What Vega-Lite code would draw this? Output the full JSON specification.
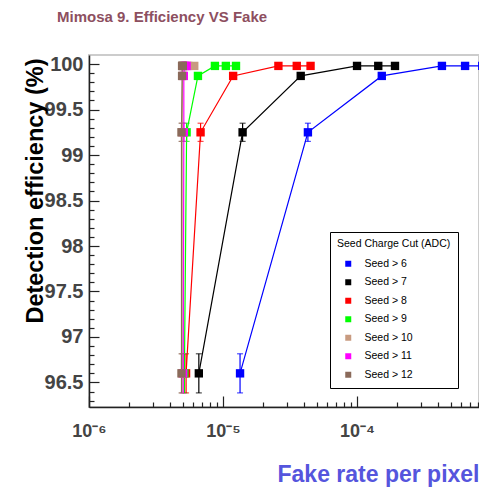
{
  "$schema": "https://vega.github.io/schema/vega-lite/v6.json",
  "width": 390,
  "height": 352,
  "autosize": {"type": "none"},
  "padding": {"left": 89, "top": 55, "right": 0, "bottom": 81},
  "background": "white",
  "config": {
    "view": {"stroke": "#cccccc", "strokeWidth": 2},
    "axis": {"grid": false}
  },
  "title": {
    "text": "Mimosa 9. Efficiency VS Fake",
    "anchor": "start",
    "frame": "group",
    "dx": -32,
    "offset": 29,
    "font": "Liberation Sans",
    "fontSize": 15,
    "fontWeight": "bold",
    "color": "#8d4f5f"
  },
  "data": {
    "values": [
      {"series": "Seed > 6", "x": 1.34e-5, "y": 96.6, "err": 0.215},
      {"series": "Seed > 6", "x": 4.3e-5, "y": 99.25, "err": 0.1},
      {"series": "Seed > 6", "x": 1.53e-4, "y": 99.87, "err": 0.03},
      {"series": "Seed > 6", "x": 4.3e-4, "y": 99.98, "err": 0.01},
      {"series": "Seed > 6", "x": 6.4e-4, "y": 99.98, "err": 0.01},
      {"series": "Seed > 6", "x": 8.6e-4, "y": 99.98, "err": 0.01},
      {"series": "Seed > 7", "x": 6.6e-6, "y": 96.6, "err": 0.215},
      {"series": "Seed > 7", "x": 1.4e-5, "y": 99.25, "err": 0.1},
      {"series": "Seed > 7", "x": 3.8e-5, "y": 99.87, "err": 0.03},
      {"series": "Seed > 7", "x": 1.0e-4, "y": 99.98, "err": 0.01},
      {"series": "Seed > 7", "x": 1.44e-4, "y": 99.98, "err": 0.01},
      {"series": "Seed > 7", "x": 1.92e-4, "y": 99.98, "err": 0.01},
      {"series": "Seed > 8", "x": 5.3e-6, "y": 96.6, "err": 0.215},
      {"series": "Seed > 8", "x": 6.8e-6, "y": 99.25, "err": 0.1},
      {"series": "Seed > 8", "x": 1.19e-5, "y": 99.87, "err": 0.03},
      {"series": "Seed > 8", "x": 2.59e-5, "y": 99.98, "err": 0.01},
      {"series": "Seed > 8", "x": 3.55e-5, "y": 99.98, "err": 0.01},
      {"series": "Seed > 8", "x": 4.5e-5, "y": 99.98, "err": 0.01},
      {"series": "Seed > 9", "x": 5.15e-6, "y": 96.6, "err": 0.215},
      {"series": "Seed > 9", "x": 5.35e-6, "y": 99.25, "err": 0.1},
      {"series": "Seed > 9", "x": 6.5e-6, "y": 99.87, "err": 0.03},
      {"series": "Seed > 9", "x": 8.7e-6, "y": 99.98, "err": 0.01},
      {"series": "Seed > 9", "x": 1.05e-5, "y": 99.98, "err": 0.01},
      {"series": "Seed > 9", "x": 1.25e-5, "y": 99.98, "err": 0.01},
      {"series": "Seed > 10", "x": 4.95e-6, "y": 96.6, "err": 0.215},
      {"series": "Seed > 10", "x": 4.95e-6, "y": 99.25, "err": 0.1},
      {"series": "Seed > 10", "x": 5.0e-6, "y": 99.87, "err": 0.03},
      {"series": "Seed > 10", "x": 5.0e-6, "y": 99.98, "err": 0.01},
      {"series": "Seed > 10", "x": 5.5e-6, "y": 99.98, "err": 0.01},
      {"series": "Seed > 10", "x": 6.1e-6, "y": 99.98, "err": 0.01},
      {"series": "Seed > 11", "x": 5.05e-6, "y": 96.6, "err": 0.215},
      {"series": "Seed > 11", "x": 5.1e-6, "y": 99.25, "err": 0.1},
      {"series": "Seed > 11", "x": 5.1e-6, "y": 99.87, "err": 0.03},
      {"series": "Seed > 11", "x": 5.15e-6, "y": 99.98, "err": 0.01},
      {"series": "Seed > 11", "x": 5.25e-6, "y": 99.98, "err": 0.01},
      {"series": "Seed > 11", "x": 5.35e-6, "y": 99.98, "err": 0.01},
      {"series": "Seed > 12", "x": 4.9e-6, "y": 96.6, "err": 0.215},
      {"series": "Seed > 12", "x": 4.9e-6, "y": 99.25, "err": 0.1},
      {"series": "Seed > 12", "x": 4.95e-6, "y": 99.87, "err": 0.03},
      {"series": "Seed > 12", "x": 4.95e-6, "y": 99.98, "err": 0.01},
      {"series": "Seed > 12", "x": 5.0e-6, "y": 99.98, "err": 0.01},
      {"series": "Seed > 12", "x": 5.0e-6, "y": 99.98, "err": 0.01}
    ]
  },
  "encoding": {
    "color": {
      "field": "series",
      "type": "nominal",
      "scale": {
        "domain": ["Seed > 6", "Seed > 7", "Seed > 8", "Seed > 9", "Seed > 10", "Seed > 11", "Seed > 12"],
        "range": ["#0000ff", "#000000", "#ff0000", "#00ff00", "#c89b80", "#ff00ff", "#8a6a5a"]
      },
      "legend": {
        "title": "Seed Charge Cut (ADC)",
        "orient": "none",
        "legendX": 241,
        "legendY": 177,
        "strokeColor": "#000000",
        "fillColor": "#ffffff",
        "padding": 7,
        "titleFont": "Liberation Sans",
        "titleFontSize": 10.5,
        "titleFontWeight": "normal",
        "titleColor": "#000000",
        "titlePadding": 9,
        "labelFont": "Liberation Sans",
        "labelFontSize": 10.5,
        "labelColor": "#000000",
        "symbolType": "square",
        "symbolSize": 36,
        "symbolOffset": 6,
        "symbolOpacity": 1,
        "labelOffset": 11,
        "rowPadding": 7.5,
        "symbolStrokeWidth": 0
      }
    }
  },
  "resolve": {"axis": {"x": "independent", "y": "independent"}},
  "layer": [
    {
      "mark": {"type": "line", "strokeWidth": 1.2, "clip": true},
      "encoding": {
        "order": {"field": "y", "type": "quantitative"},
        "x": {
          "field": "x",
          "type": "quantitative",
          "scale": {"type": "log", "domain": [1e-6, 8.13e-4], "nice": false},
          "axis": {
            "orient": "bottom",
            "title": "Fake rate per pixel",
            "titleFont": "Liberation Sans",
            "titleFontSize": 23,
            "titleFontWeight": "bold",
            "titleColor": "#5555dd",
            "titleAnchor": "end",
            "titleAlign": "right",
            "titleX": 390,
            "titleY": 74,
            "titleBaseline": "alphabetic",
            "values": [1e-6, 1e-5, 1e-4],
            "labelExpr": "datum.value < 2e-6 ? '10⁻⁶' : (datum.value < 2e-5 ? '10⁻⁵' : '10⁻⁴')",
            "labelFont": "Liberation Sans Narrow, Liberation Sans",
            "labelFontWeight": "bold",
            "labelFontSize": 18,
            "labelColor": "#444444",
            "labelBaseline": "top",
            "labelPadding": 26,
            "labelFlush": false,
            "labelOverlap": false,
            "domainColor": "#222222",
            "domainWidth": 1.5,
            "tickColor": "#222222",
            "tickWidth": 1.2,
            "tickSize": -11
          }
        },
        "y": {
          "field": "y",
          "type": "quantitative",
          "scale": {"domain": [96.23, 100.1], "nice": false, "zero": false},
          "axis": {
            "orient": "left",
            "title": "Detection efficiency (%)",
            "titleFont": "Liberation Sans",
            "titleFontSize": 23.5,
            "titleFontWeight": "bold",
            "titleColor": "#000000",
            "titleAngle": -90,
            "titleAlign": "right",
            "titleBaseline": "middle",
            "titleX": -54,
            "titleY": 3,
            "values": [96.5, 97, 97.5, 98, 98.5, 99, 99.5, 100],
            "format": ".1~f",
            "labelFont": "Liberation Sans Narrow, Liberation Sans",
            "labelFontWeight": "bold",
            "labelFontSize": 20,
            "labelColor": "#444444",
            "labelPadding": 16,
            "labelFlush": false,
            "labelOverlap": false,
            "domainColor": "#222222",
            "domainWidth": 1.5,
            "tickColor": "#222222",
            "tickWidth": 1.2,
            "tickSize": -10
          }
        }
      }
    },
    {
      "mark": {"type": "errorbar", "ticks": {"size": 6}, "thickness": 1.2, "clip": true},
      "encoding": {
        "x": {"field": "x", "type": "quantitative", "scale": {"type": "log", "domain": [1e-6, 8.13e-4], "nice": false}, "axis": null},
        "y": {"field": "y", "type": "quantitative", "scale": {"domain": [96.23, 100.1], "nice": false, "zero": false}, "axis": null},
        "yError": {"field": "err"}
      }
    },
    {
      "mark": {"type": "point", "shape": "square", "filled": true, "size": 70, "opacity": 1, "clip": true},
      "encoding": {
        "x": {
          "field": "x",
          "type": "quantitative",
          "scale": {"type": "log", "domain": [1e-6, 8.13e-4], "nice": false},
          "axis": {
            "orient": "bottom",
            "title": null,
            "labels": false,
            "domain": false,
            "values": [2e-6, 3e-6, 4e-6, 5e-6, 6e-6, 7e-6, 8e-6, 9e-6, 2e-5, 3e-5, 4e-5, 5e-5, 6e-5, 7e-5, 8e-5, 9e-5, 2e-4, 3e-4, 4e-4, 5e-4, 6e-4, 7e-4, 8e-4],
            "tickColor": "#222222",
            "tickWidth": 1.2,
            "tickSize": -5
          }
        },
        "y": {
          "field": "y",
          "type": "quantitative",
          "scale": {"domain": [96.23, 100.1], "nice": false, "zero": false},
          "axis": {
            "orient": "left",
            "title": null,
            "labels": false,
            "domain": false,
            "values": [96.3, 96.4, 96.6, 96.7, 96.8, 96.9, 97.1, 97.2, 97.3, 97.4, 97.6, 97.7, 97.8, 97.9, 98.1, 98.2, 98.3, 98.4, 98.6, 98.7, 98.8, 98.9, 99.1, 99.2, 99.3, 99.4, 99.6, 99.7, 99.8, 99.9],
            "tickColor": "#222222",
            "tickWidth": 1.2,
            "tickSize": -5
          }
        }
      }
    }
  ]
}
